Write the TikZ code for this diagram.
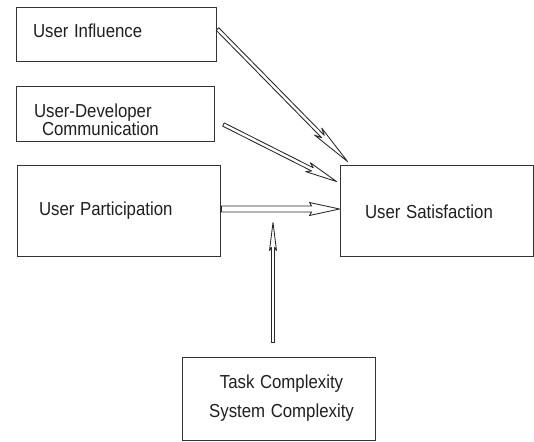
\documentclass[tikz,border=0pt]{standalone}
\usepackage{fontspec}
\setmainfont{Liberation Sans}
\usetikzlibrary{calc}
\newcommand\tx[1]{\scalebox{1}[1.12]{#1}}
% #1 start, #2 end, #3 shaft half-width, #4 head length, #5 head half-width, #6 notch
\newcommand\hollowarrow[6]{%
  \coordinate (hA) at ($(#2)!#4!(#1)$);
  \coordinate (hN) at ($(#2)!#4-#6!(#1)$);
  \draw[arr] ($(#1)!#3!90:(#2)$) -- ($(hN)!#3!-90:(#1)$) -- ($(hA)!#5!-90:(#1)$)
    -- (#2) -- ($(hA)!#5!90:(#1)$) -- ($(hN)!#3!90:(#1)$)
    -- ($(#1)!#3!-90:(#2)$) -- cycle;
}
\tikzset{
  box/.style={draw=black!80, line width=0.9pt, rectangle, inner sep=0pt,
    text height=0pt, text depth=0pt,
    font=\fontsize{16.8}{19}\selectfont, text=black!88},
  arr/.style={draw=black!85, line width=0.85pt, fill=white, line join=round}
}
\begin{document}
\begin{tikzpicture}[x=1pt,y=-1pt]
\useasboundingbox (0,0) rectangle (534,441);
\node[box, minimum width=200pt, minimum height=54pt, text width=166pt, align=left]
  (inf) at (116,34) {\raisebox{-3.5pt}{\tx{User Influence}}};
\node[box, minimum width=198pt, minimum height=55pt, text width=162pt, align=left]
  (comm) at (115,113.5) {\raisebox{-13pt}{\begin{tabular}{@{}l@{}}\tx{User-Developer}\\[-1.5pt]\hspace*{8pt}\tx{Communication}\end{tabular}}};
\node[box, minimum width=203pt, minimum height=91pt, text width=159pt, align=left]
  (part) at (118.5,210.5) {\raisebox{-5.2pt}{\tx{User Participation}}};
\node[box, minimum width=193pt, minimum height=91pt, text width=143pt, align=left]
  (sat) at (436.5,210.5) {\raisebox{-8pt}{\tx{User Satisfaction}}};
\node[box, minimum width=193pt, minimum height=83pt, text width=180pt, align=center]
  (task) at (278.5,398.5) {\hspace*{6pt}\raisebox{-5pt}{\begin{tabular}{@{}c@{}}\tx{Task Complexity}\\[10pt]\tx{System Complexity}\end{tabular}}};
% connector end points
\coordinate (infS) at ($(inf.east)+(1,-5)$);
\coordinate (infE) at ($(sat.north west)+(8,-3)$);
\coordinate (comS) at ($(comm.east)+(9,11)$);
\coordinate (comE) at ($(sat.north west)+(-3,17)$);
\coordinate (parS) at ($(part.east)+(1,-1.5)$);
\coordinate (parE) at (parS -| sat.west);
\coordinate (tskS) at ($(task.north)+(-5.5,-14)$);
\coordinate (tskE) at ($(tskS |- part.east)+(0,12)$);
\hollowarrow{infS}{infE}{1.8pt}{42pt}{5pt}{7pt}
\hollowarrow{comS}{comE}{1.8pt}{32pt}{5pt}{5pt}
\hollowarrow{parS}{parE}{3pt}{30pt}{6.5pt}{2pt}
\hollowarrow{tskS}{tskE}{1.5pt}{28pt}{3.5pt}{3pt}
\end{tikzpicture}
\end{document}
